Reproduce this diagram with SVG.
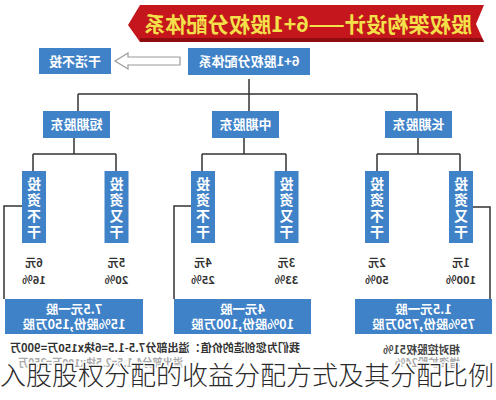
<svg xmlns="http://www.w3.org/2000/svg" width="496" height="400" viewBox="0 0 496 400">
<style>
.box{fill:#3f82c8}
.bt{font-family:"Noto Sans CJK SC",sans-serif;font-weight:bold;fill:#fff;text-anchor:middle}
.vt{font-family:"Noto Sans CJK SC",sans-serif;font-weight:bold;fill:#fff;font-size:14px;writing-mode:vertical-rl;text-anchor:start;letter-spacing:2px}
.nt{font-family:"Noto Sans CJK SC",sans-serif;font-weight:bold;fill:#333;font-size:11px;text-anchor:middle}
.lt{font-family:"Noto Sans CJK SC",sans-serif;font-weight:bold;font-size:11px}
.ln{fill:none;stroke:#333;stroke-width:1.5}
</style>
<rect width="496" height="400" fill="#fff"/>
<g id="title">
<polygon points="140,5 484,5 476,24 484,42 140,42 128,25" fill="#c4161c"/>
<polygon points="140,38 482,38 484,42 140,42" fill="#8e0c10"/>
<text transform="matrix(-1 0 0 1 616 0)" x="308" y="32" font-family="Noto Sans CJK SC,sans-serif" font-weight="bold" font-size="21" fill="#f3e04a" text-anchor="middle" textLength="328" lengthAdjust="spacingAndGlyphs">股权架构设计——6+1股权分配体系</text>
</g>
<g id="connectors">
<polygon points="115,61 128,53 128,57 180,57 180,65 128,65 128,69" fill="#fff" stroke="#999" stroke-width="1.2"/>
<path class="ln" d="M249,79V94 M78,94H417 M78,94V111 M249,94V111 M417,94V111"/>
<path class="ln" d="M74,138V154 M33,154H116 M33,154V171 M116,154V171"/>
<path class="ln" d="M244,138V154 M202,154H286 M202,154V171 M286,154V171"/>
<path class="ln" d="M418,138V154 M377,154H460 M377,154V171 M460,154V171"/>
<path class="ln" d="M22,206H4V299 M191,206H174V299 M473,207H490V299"/>
</g>
<g id="n-root"><rect class="box" x="188" y="48" width="122" height="27"/><text class="bt" font-size="13" transform="matrix(-1 0 0 1 498 0)" x="249" y="66">6+1股权分配体系</text></g>
<g id="n-nowork"><rect class="box" x="39" y="48" width="72" height="26"/><text class="bt" font-size="13" transform="matrix(-1 0 0 1 150 0)" x="75" y="66">干活不投</text></g>
<g id="n-short"><rect class="box" x="43" y="111" width="67" height="27"/><text class="bt" font-size="13" transform="matrix(-1 0 0 1 153 0)" x="76.5" y="129">短期股东</text></g>
<g id="n-mid"><rect class="box" x="212" y="111" width="67" height="27"/><text class="bt" font-size="13" transform="matrix(-1 0 0 1 491 0)" x="245.5" y="129">中期股东</text></g>
<g id="n-long"><rect class="box" x="385" y="111" width="67" height="27"/><text class="bt" font-size="13" transform="matrix(-1 0 0 1 837 0)" x="418.5" y="129">长期股东</text></g>
<g id="v1"><rect class="box" x="22" y="171" width="24" height="72"/><text class="vt" transform="matrix(-1 0 0 1 68 0)" x="34" y="177">投资不干</text><text class="nt" transform="matrix(-1 0 0 1 68 0)" x="34" y="267">6元</text><text class="nt" transform="matrix(-1 0 0 1 68 0)" x="34" y="284">16%</text></g>
<g id="v2"><rect class="box" x="104.5" y="171" width="24" height="72"/><text class="vt" transform="matrix(-1 0 0 1 233 0)" x="116.5" y="177">投资又干</text><text class="nt" transform="matrix(-1 0 0 1 233 0)" x="116.5" y="267">5元</text><text class="nt" transform="matrix(-1 0 0 1 233 0)" x="116.5" y="284">20%</text></g>
<g id="v3"><rect class="box" x="191" y="171" width="24" height="72"/><text class="vt" transform="matrix(-1 0 0 1 406 0)" x="203" y="177">投资不干</text><text class="nt" transform="matrix(-1 0 0 1 406 0)" x="203" y="267">4元</text><text class="nt" transform="matrix(-1 0 0 1 406 0)" x="203" y="284">25%</text></g>
<g id="v4"><rect class="box" x="274.5" y="171" width="24" height="72"/><text class="vt" transform="matrix(-1 0 0 1 573 0)" x="286.5" y="177">投资又干</text><text class="nt" transform="matrix(-1 0 0 1 573 0)" x="286.5" y="267">3元</text><text class="nt" transform="matrix(-1 0 0 1 573 0)" x="286.5" y="284">33%</text></g>
<g id="v5"><rect class="box" x="365" y="171" width="24" height="72"/><text class="vt" transform="matrix(-1 0 0 1 754 0)" x="377" y="177">投资不干</text><text class="nt" transform="matrix(-1 0 0 1 754 0)" x="377" y="267">2元</text><text class="nt" transform="matrix(-1 0 0 1 754 0)" x="377" y="284">50%</text></g>
<g id="v6"><rect class="box" x="449" y="171" width="24" height="72"/><text class="vt" transform="matrix(-1 0 0 1 922 0)" x="461" y="177">投资又干</text><text class="nt" transform="matrix(-1 0 0 1 922 0)" x="461" y="267">1元</text><text class="nt" transform="matrix(-1 0 0 1 922 0)" x="461" y="284">100%</text></g>
<g id="b1"><rect class="box" x="5" y="299" width="138" height="35"/><text class="bt" font-size="12.5" transform="matrix(-1 0 0 1 148 0)" x="74" y="314">7.5元一股</text><text class="bt" font-size="12.5" transform="matrix(-1 0 0 1 148 0)" x="74" y="329">15%股份,150万股</text></g>
<g id="b2"><rect class="box" x="174" y="299" width="137" height="35"/><text class="bt" font-size="12.5" transform="matrix(-1 0 0 1 485 0)" x="242.5" y="314">4元一股</text><text class="bt" font-size="12.5" transform="matrix(-1 0 0 1 485 0)" x="242.5" y="329">10%股份,100万股</text></g>
<g id="b3"><rect class="box" x="355" y="299" width="137" height="35"/><text class="bt" font-size="12.5" transform="matrix(-1 0 0 1 847 0)" x="423.5" y="314">1.5元一股</text><text class="bt" font-size="12.5" transform="matrix(-1 0 0 1 847 0)" x="423.5" y="329">75%股份,750万股</text></g>
<g id="notes">
<text class="lt" fill="#333" transform="matrix(-1 0 0 1 600 0)" x="300" y="352" textLength="290" lengthAdjust="spacingAndGlyphs">我们为您创造的价值：溢出部分7.5-1.5=6块x150万=900万</text>
<text class="lt" fill="#aaa" transform="matrix(-1 0 0 1 366 0)" x="183" y="367" textLength="165" lengthAdjust="spacingAndGlyphs">溢出部分4-1.5=2.5块x100万=250万</text>
<text class="lt" fill="#444" transform="matrix(-1 0 0 1 920 0)" x="460" y="354" textLength="77" lengthAdjust="spacingAndGlyphs">相对控股权51%</text>
<text class="lt" fill="#aaa" transform="matrix(-1 0 0 1 920 0)" x="460" y="367" textLength="65" lengthAdjust="spacingAndGlyphs">增资扩股24%</text>
</g>
<text x="0" y="385" font-family="Noto Sans CJK SC,sans-serif" font-weight="300" font-size="26" fill="#2a2a2a" stroke="#fff" stroke-width="3" paint-order="stroke" textLength="494" lengthAdjust="spacingAndGlyphs">入股股权分配的收益分配方式及其分配比例</text>
</svg>
